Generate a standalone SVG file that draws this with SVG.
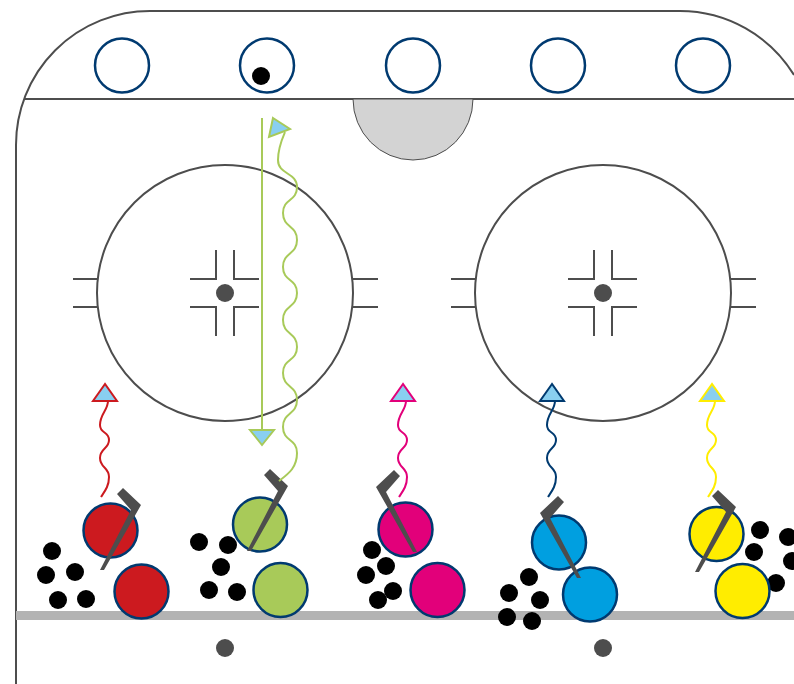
<svg xmlns="http://www.w3.org/2000/svg" xmlns:xlink="http://www.w3.org/1999/xlink" width="794" height="684" viewBox="0 0 794 684">
  <style>
    .rink{fill:none;stroke:#4d4d4d;stroke-width:2}
    .thin{fill:none;stroke:#4d4d4d;stroke-width:2}
    .spot{fill:#4d4d4d}
    .bench{fill:#fff;stroke:#003a70;stroke-width:2.5}
    .puck{fill:#000}
    .player{stroke:#003a70;stroke-width:2.5}
    .stick{fill:#4d4d4d}
  </style>
  <defs>
    <!-- wavy skating path and its light-blue arrowhead; stroke colour comes from the parent group -->
    <path id="wave" fill="none" stroke-width="2" d="M 101 497 C 105 491, 109 486, 109 477 C 109 467, 100 468, 100 458 S 109 449, 109 440 S 100 434, 100 425 C 100 414, 108 410, 108 401"/>
    <polygon id="tip" fill="#89cff0" stroke-width="2" points="105,384 93,401 117,401"/>
    <!-- hockey stick: tapered shaft with a bent blade -->
    <polygon id="stick" class="stick" points="100,570 131,510 117,494 123,488 141,505 104,570"/>
    <!-- faceoff circle with hash marks and crosshair -->
    <g id="faceoff">
      <circle cx="0" cy="0" r="128" class="rink"/>
      <path class="thin" d="M -152 -14 H -128 M -152 14 H -128 M 128 -14 H 153 M 128 14 H 153"/>
      <path class="thin" d="M -9 -43 V -14 H -35 M 9 -43 V -14 H 34 M -9 43 V 14 H -35 M 9 43 V 14 H 34"/>
      <circle cx="0" cy="0" r="9" class="spot"/>
    </g>
  </defs>

  <rect width="794" height="684" fill="#fff"/>

  <!-- boards outline -->
  <g id="boards">
    <path class="rink" d="M 16 684 V 145 A 134 134 0 0 1 150 11 H 680 A 134 134 0 0 1 794 75"/>
    <line x1="25" y1="99" x2="794" y2="99" class="rink"/>
    <path d="M 353 99 A 60 61 0 0 0 473 99 Z" fill="#d3d3d3" stroke="#4d4d4d" stroke-width="1"/>
    <line x1="16" y1="615.5" x2="794" y2="615.5" stroke="#b3b3b3" stroke-width="9"/>
    <circle cx="225" cy="648" r="9" class="spot"/>
    <circle cx="603" cy="648" r="9" class="spot"/>
  </g>

  <!-- bench positions -->
  <g id="benches">
    <circle cx="122" cy="65.5" r="27" class="bench"/>
    <circle cx="267" cy="65.5" r="27" class="bench"/>
    <circle cx="413" cy="65.5" r="27" class="bench"/>
    <circle cx="558" cy="65.5" r="27" class="bench"/>
    <circle cx="703" cy="65.5" r="27" class="bench"/>
    <circle cx="261" cy="76" r="9" class="puck"/>
  </g>

  <g id="faceoff-left"><use href="#faceoff" transform="translate(225,293)"/></g>
  <g id="faceoff-right"><use href="#faceoff" transform="translate(603,293)"/></g>

  <!-- red group -->
  <g id="team-red">
    <circle cx="52" cy="551" r="9" class="puck"/>
    <circle cx="46" cy="575" r="9" class="puck"/>
    <circle cx="75" cy="572" r="9" class="puck"/>
    <circle cx="58" cy="600" r="9" class="puck"/>
    <circle cx="86" cy="599" r="9" class="puck"/>
    <circle cx="110.5" cy="530.5" r="27" fill="#cc1a1f" class="player"/>
    <circle cx="141.5" cy="591.5" r="27" fill="#cc1a1f" class="player"/>
    <use href="#stick"/>
  </g>

  <!-- green group -->
  <g id="team-green">
    <circle cx="199" cy="542" r="9" class="puck"/>
    <circle cx="228" cy="545" r="9" class="puck"/>
    <circle cx="221" cy="567" r="9" class="puck"/>
    <circle cx="209" cy="590" r="9" class="puck"/>
    <circle cx="237" cy="592" r="9" class="puck"/>
    <circle cx="260" cy="524.5" r="27" fill="#a8ca59" class="player"/>
    <circle cx="280.5" cy="590" r="27" fill="#a8ca59" class="player"/>
    <use href="#stick" transform="translate(147,-19)"/>
  </g>

  <!-- magenta group -->
  <g id="team-magenta">
    <circle cx="372" cy="550" r="9" class="puck"/>
    <circle cx="386" cy="566" r="9" class="puck"/>
    <circle cx="366" cy="575" r="9" class="puck"/>
    <circle cx="393" cy="591" r="9" class="puck"/>
    <circle cx="378" cy="600" r="9" class="puck"/>
    <circle cx="405.5" cy="529.5" r="27" fill="#e2007a" class="player"/>
    <circle cx="437.5" cy="590" r="27" fill="#e2007a" class="player"/>
    <use href="#stick" transform="translate(517,-18) scale(-1,1)"/>
  </g>

  <!-- blue group -->
  <g id="team-blue">
    <circle cx="529" cy="577" r="9" class="puck"/>
    <circle cx="509" cy="593" r="9" class="puck"/>
    <circle cx="540" cy="600" r="9" class="puck"/>
    <circle cx="507" cy="617" r="9" class="puck"/>
    <circle cx="532" cy="621" r="9" class="puck"/>
    <circle cx="559" cy="542.5" r="27" fill="#009fe0" class="player"/>
    <circle cx="590" cy="594.5" r="27" fill="#009fe0" class="player"/>
    <use href="#stick" transform="translate(681,8) scale(-1,1)"/>
  </g>

  <!-- yellow group -->
  <g id="team-yellow">
    <circle cx="760" cy="530" r="9" class="puck"/>
    <circle cx="754" cy="552" r="9" class="puck"/>
    <circle cx="788" cy="537" r="9" class="puck"/>
    <circle cx="792" cy="561" r="9" class="puck"/>
    <circle cx="776" cy="583" r="9" class="puck"/>
    <circle cx="716.5" cy="534" r="27" fill="#ffed00" class="player"/>
    <circle cx="742.5" cy="591" r="27" fill="#ffed00" class="player"/>
    <use href="#stick" transform="translate(595,2)"/>
  </g>

  <!-- skating paths and passes -->
  <g id="connectors">
    <g stroke="#cc1a1f"><use href="#wave"/><use href="#tip"/></g>
    <g stroke="#e2007a" transform="translate(298,0)"><use href="#wave"/><use href="#tip"/></g>
    <g stroke="#003a70" transform="translate(447,0)"><use href="#wave"/><use href="#tip"/></g>
    <g stroke="#ffed00" transform="translate(607,0)"><use href="#wave"/><use href="#tip"/></g>
    <g stroke="#a8ca59" stroke-width="2">
      <line x1="262" y1="118" x2="262" y2="431"/>
      <polygon points="250,430 274,430 262,445" fill="#89cff0"/>
      <path fill="none" d="M 279 481 C 288 474, 297 468, 297 453 C 297 438, 283 442, 283 427 S 297 415, 297 400 S 283 388, 283 373 S 297 362, 297 347 S 283 335, 283 320 S 297 308, 297 293 S 283 282, 283 267 S 297 255, 297 240 S 283 228, 283 213 S 297 202, 297 187 S 278 175, 278 160 C 278 148, 282 139, 285 132"/>
      <polygon points="273,118 290,129 269,137" fill="#89cff0"/>
    </g>
  </g>
</svg>
